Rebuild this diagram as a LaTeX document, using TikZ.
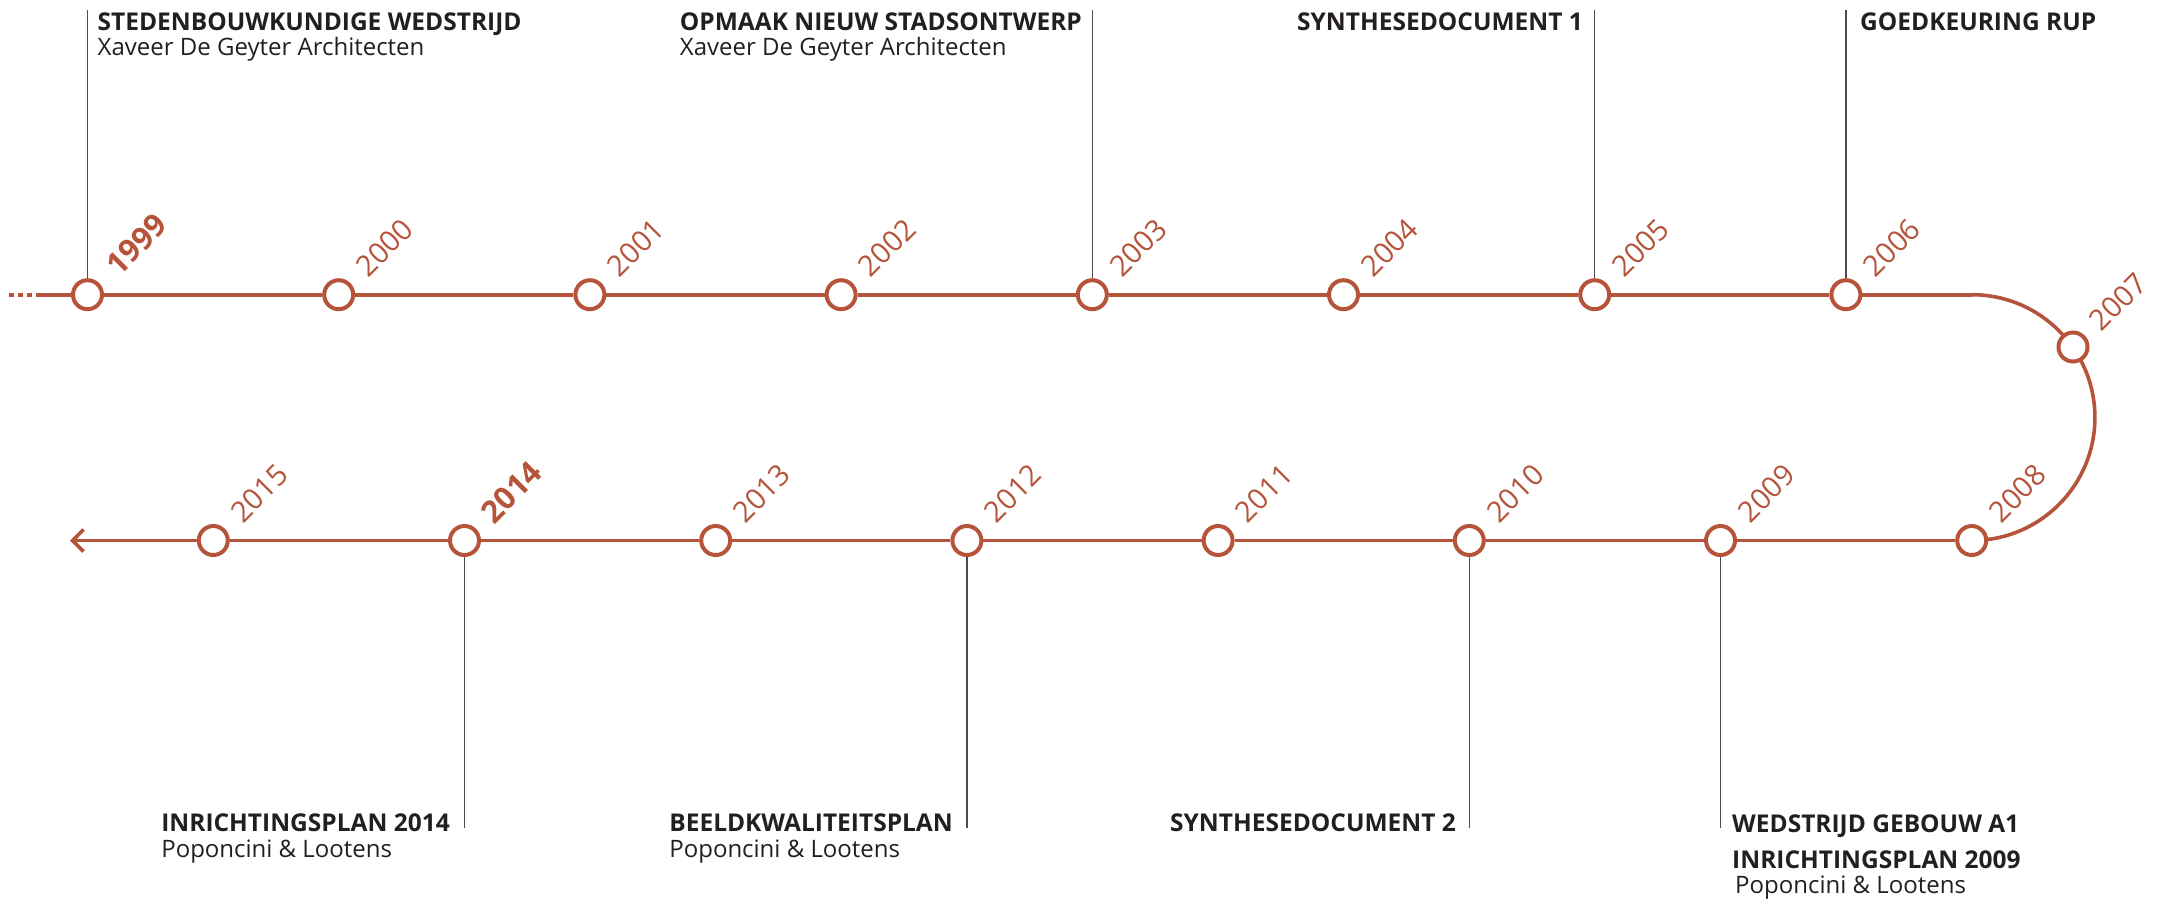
\documentclass[tikz,border=0pt]{standalone}
\usepackage{fontspec}
\setmainfont{Open Sans}
\usetikzlibrary{arrows.meta,backgrounds}
\definecolor{rust}{HTML}{B5543A}
\definecolor{ink}{HTML}{231F20}
\definecolor{conn}{HTML}{4D4D4D}
\begin{document}
\begin{tikzpicture}[x=1pt,y=-1pt,
  yr/.style={circle, draw=rust, line width=4pt, fill=white, minimum size=29pt, inner sep=0pt},
  yearlbl/.style={rotate=45, anchor=south west, inner sep=0pt, text=rust, font=\fontsize{29}{29}\selectfont},
  yearbold/.style={yearlbl, font=\fontsize{31}{31}\selectfont\bfseries},
  tl/.style={line width=3.6pt, draw=rust},
  connector/.style={draw=conn, line width=1.2pt},
  ttl/.style={inner sep=0pt, text=ink, font=\fontsize{24.5}{24.5}\selectfont\bfseries},
  sub/.style={inner sep=0pt, text=ink, font=\fontsize{24}{24}\selectfont},
]
\useasboundingbox (0,0) rectangle (2165,903);

% top row
\node[yr] (y1999) at (87.5,294.7) {};
\node[yr] (y2000) at (338.7,294.7) {};
\node[yr] (y2001) at (589.9,294.7) {};
\node[yr] (y2002) at (841.1,294.7) {};
\node[yr] (y2003) at (1092.3,294.7) {};
\node[yr] (y2004) at (1343.5,294.7) {};
\node[yr] (y2005) at (1594.7,294.7) {};
\node[yr] (y2006) at (1845.9,294.7) {};
\node[yr] (y2007) at (2073,347) {};
% bottom row
\node[yr] (y2008) at (1971.7,540.5) {};
\node[yr] (y2009) at (1720.5,540.5) {};
\node[yr] (y2010) at (1469.3,540.5) {};
\node[yr] (y2011) at (1218.1,540.5) {};
\node[yr] (y2012) at (966.9,540.5) {};
\node[yr] (y2013) at (715.7,540.5) {};
\node[yr] (y2014) at (464.5,540.5) {};
\node[yr] (y2015) at (213.3,540.5) {};

\coordinate (lead) at (9,294.7);
\coordinate (leadS) at (41,294.7);
\coordinate (turn) at (1972,294.7);
\coordinate (tip) at (70,540.5);

\begin{scope}[on background layer]
\draw[tl, dash pattern=on 5pt off 4pt] (lead) -- (leadS);
\draw[tl] (leadS) -- (y1999) -- (y2000) -- (y2001) -- (y2002) -- (y2003) -- (y2004) -- (y2005) -- (y2006) -- (turn);
\draw[tl] (turn) arc[start angle=90, end angle=-90, radius=122.9pt];
\draw[tl] (y2008) -- (y2009) -- (y2010) -- (y2011) -- (y2012) -- (y2013) -- (y2014) -- (y2015);
\draw[tl, -{Straight Barb[length=11pt,width=22pt]}] (y2015) -- (tip);
\end{scope}

% year labels
\node[yearbold] (l1999) at ([shift={(32,-17)}]y1999.center) {1999};
\node[yearlbl] (l2000) at ([shift={(30,-16)}]y2000.center) {2000};
\node[yearlbl] (l2001) at ([shift={(30,-16)}]y2001.center) {2001};
\node[yearlbl] (l2002) at ([shift={(30,-16)}]y2002.center) {2002};
\node[yearlbl] (l2003) at ([shift={(30,-16)}]y2003.center) {2003};
\node[yearlbl] (l2004) at ([shift={(30,-16)}]y2004.center) {2004};
\node[yearlbl] (l2005) at ([shift={(30,-16)}]y2005.center) {2005};
\node[yearlbl] (l2006) at ([shift={(30,-16)}]y2006.center) {2006};
\node[yearlbl] (l2007) at ([shift={(29,-14)}]y2007.center) {2007};
\node[yearlbl] (l2008) at ([shift={(30,-16)}]y2008.center) {2008};
\node[yearlbl] (l2009) at ([shift={(30,-16)}]y2009.center) {2009};
\node[yearlbl] (l2010) at ([shift={(30,-16)}]y2010.center) {2010};
\node[yearlbl] (l2011) at ([shift={(30,-16)}]y2011.center) {2011};
\node[yearlbl] (l2012) at ([shift={(30,-16)}]y2012.center) {2012};
\node[yearlbl] (l2013) at ([shift={(30,-16)}]y2013.center) {2013};
\node[yearbold] (l2014) at ([shift={(30,-15)}]y2014.center) {2014};
\node[yearlbl] (l2015) at ([shift={(30,-16)}]y2015.center) {2015};

% top connectors
\coordinate (c1999) at (87.5,10);
\coordinate (c2003) at (1092.3,10);
\coordinate (c2005) at (1594.7,10);
\coordinate (c2006) at (1845.9,10);
\draw[connector] (c1999) -- (y1999);
\draw[connector] (c2003) -- (y2003);
\draw[connector] (c2005) -- (y2005);
\draw[connector] (c2006) -- (y2006);

% bottom connectors
\coordinate (c2014) at (464.5,828);
\coordinate (c2012) at (966.9,828);
\coordinate (c2010) at (1469.3,828);
\coordinate (c2009) at (1720.5,828);
\draw[connector] (y2014) -- (c2014);
\draw[connector] (y2012) -- (c2012);
\draw[connector] (y2010) -- (c2010);
\draw[connector] (y2009) -- (c2009);

% top texts
\node[ttl, anchor=base west] (t1999) at (97.5,30) {STEDENBOUWKUNDIGE WEDSTRIJD};
\node[sub, anchor=base west] (s1999) at ([yshift=-25pt]t1999.base west) {Xaveer De Geyter Architecten};
\node[ttl, anchor=base east] (t2003) at (1082,30) {OPMAAK NIEUW STADSONTWERP};
\node[sub, anchor=base west] (s2003) at ([yshift=-25pt]t2003.base west) {Xaveer De Geyter Architecten};
\node[ttl, anchor=base east] (t2005) at (1583,30) {SYNTHESEDOCUMENT 1};
\node[ttl, anchor=base west] (t2006) at (1860,30) {GOEDKEURING RUP};

% bottom texts
\node[ttl, anchor=base east] (t2014) at (450,831) {INRICHTINGSPLAN 2014};
\node[sub, anchor=base west] (s2014) at ([yshift=-26pt]t2014.base west) {Poponcini \& Lootens};
\node[ttl, anchor=base east] (t2012) at (953,831) {BEELDKWALITEITSPLAN};
\node[sub, anchor=base west] (s2012) at ([yshift=-26pt]t2012.base west) {Poponcini \& Lootens};
\node[ttl, anchor=base east] (t2010) at (1456,831) {SYNTHESEDOCUMENT 2};
\node[ttl, anchor=base west] (t2009a) at (1732,832) {WEDSTRIJD GEBOUW A1};
\node[ttl, anchor=base west] (t2009b) at (1732,868) {INRICHTINGSPLAN 2009};
\node[sub, anchor=base west] (s2009) at (1735,893) {Poponcini \& Lootens};
\end{tikzpicture}
\end{document}
